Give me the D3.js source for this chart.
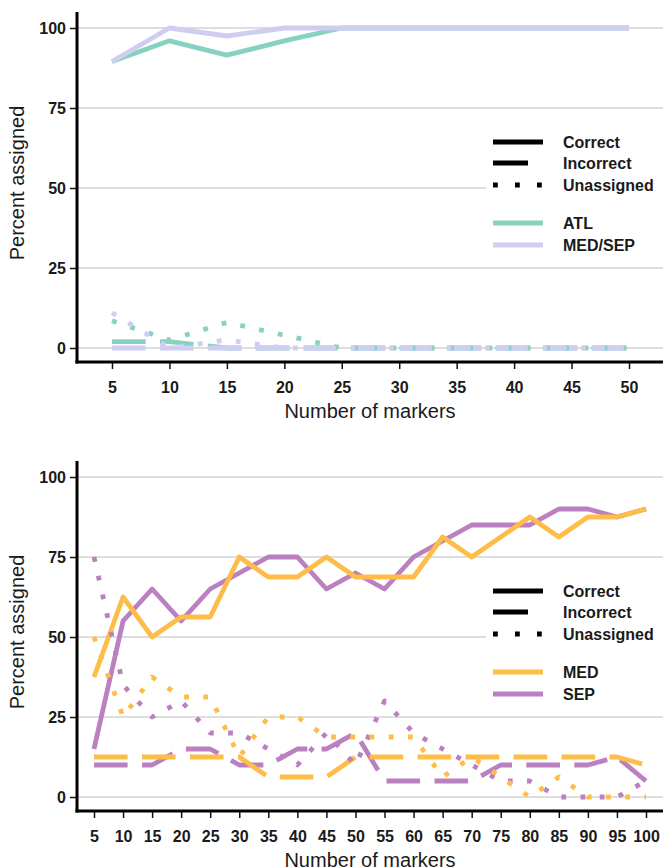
<!DOCTYPE html>
<html>
<head>
<meta charset="utf-8">
<script src="https://cdn.jsdelivr.net/npm/d3@7"></script>
<style>
  body { margin: 0; background: #fff; }
  svg { display: block; }
</style>
</head>
<body>
<svg id="chart" width="663" height="868"></svg>
<script>
// Top panel: ATL vs MED/SEP
const topMarkers = [5, 10, 15, 20, 25, 30, 35, 40, 45, 50];
const atlCorrect = [89.5, 96, 91.5, 96, 100, 100, 100, 100, 100, 100];
const atlIncorrect = [2, 2, 0, 0, 0, 0, 0, 0, 0, 0];
const atlUnassigned = [8.5, 2.5, 8, 4, 0, 0, 0, 0, 0, 0];
const medsepCorrect = [89.5, 100, 97.5, 100, 100, 100, 100, 100, 100, 100];
const medsepIncorrect = [0, 0, 0, 0, 0, 0, 0, 0, 0, 0];
const medsepUnassigned = [11, 0, 2.5, 0, 0, 0, 0, 0, 0, 0];

// Bottom panel: MED vs SEP
const bottomMarkers = [5, 10, 15, 20, 25, 30, 35, 40, 45, 50, 55, 60, 65, 70, 75, 80, 85, 90, 95, 100];
const medCorrect = [37.5, 62.5, 50, 56.25, 56.25, 75, 68.75, 68.75, 75, 68.75, 68.75, 68.75, 81.25, 75, 81.25, 87.5, 81.25, 87.5, 87.5, 90];
const medIncorrect = [12.5, 12.5, 12.5, 12.5, 12.5, 12.5, 6.25, 6.25, 6.25, 12.5, 12.5, 12.5, 12.5, 12.5, 12.5, 12.5, 12.5, 12.5, 12.5, 10];
const medUnassigned = [50, 25, 37.5, 31.25, 31.25, 12.5, 25, 25, 18.75, 18.75, 18.75, 18.75, 6.25, 12.5, 6.25, 0, 6.25, 0, 0, 0];
const sepCorrect = [15, 55, 65, 55, 65, 70, 75, 75, 65, 70, 65, 75, 80, 85, 85, 85, 90, 90, 87.5, 90];
const sepIncorrect = [10, 10, 10, 15, 15, 10, 10, 15, 15, 20, 5, 5, 5, 5, 10, 10, 10, 10, 12.5, 5];
const sepUnassigned = [75, 35, 25, 30, 20, 20, 15, 10, 20, 10, 30, 20, 15, 10, 5, 5, 0, 0, 0, 5];

const yTicks = [0, 25, 50, 75, 100];
const topXTicks = [5, 10, 15, 20, 25, 30, 35, 40, 45, 50];
const bottomXTicks = [5, 10, 15, 20, 25, 30, 35, 40, 45, 50, 55, 60, 65, 70, 75, 80, 85, 90, 95, 100];
const statusLabels = ['Correct', 'Incorrect', 'Unassigned'];

const FONT = '"Liberation Sans", Arial, Helvetica, sans-serif';
const LW = 4.8;
const dashes = { Correct: null, Incorrect: '33.6,14.4', Unassigned: '4.8,14.4' };
// legend keys only show one long dash
const legendDashes = { Correct: null, Incorrect: '35,20', Unassigned: '4.8,17.2' };

const svg = d3.select('#chart');

function drawPanel(offsetY, cfg) {
    const g = svg.append('g').attr('transform', `translate(0,${offsetY})`);
    const left = 77, right = 663, axisY = 362, top = 12;

    const x = d3.scaleLinear().domain(cfg.xDomain).range(cfg.xRange);
    const y = d3.scaleLinear().domain([0, 100]).range([348, 28]);

    // gridlines
    g.append('g').selectAll('line')
        .data(yTicks)
        .join('line')
        .attr('x1', left).attr('x2', right)
        .attr('y1', d => y(d)).attr('y2', d => y(d))
        .attr('stroke', '#d3d3d3')
        .attr('stroke-width', 1.5);

    // series lines: correct first, then incorrect, then unassigned
    const line = d3.line()
        .x((d, i) => x(cfg.markers[i]))
        .y(d => y(d));

    statusLabels.forEach(status => {
        cfg.series.forEach(s => {
            g.append('path')
                .datum(s[status])
                .attr('d', line)
                .attr('fill', 'none')
                .attr('stroke', s.color)
                .attr('stroke-width', LW)
                .attr('stroke-linejoin', 'round')
                .attr('stroke-dasharray', dashes[status]);
        });
    });

    // axes
    const yAxis = g.append('g')
        .attr('transform', `translate(${left},0)`)
        .call(d3.axisLeft(y).tickValues(yTicks).tickSize(7).tickPadding(4));
    const xAxis = g.append('g')
        .attr('transform', `translate(0,${axisY})`)
        .call(d3.axisBottom(x).tickValues(cfg.xTicks).tickSize(7).tickPadding(13));

    [yAxis, xAxis].forEach(ax => {
        ax.attr('font-family', FONT).attr('font-size', 16);
        ax.select('.domain').remove();
        ax.selectAll('.tick line').attr('stroke', '#111').attr('stroke-width', 1.5);
        ax.selectAll('.tick text').attr('fill', '#1a1a1a').attr('font-weight', 'bold');
    });

    g.append('line')
        .attr('x1', left).attr('x2', left)
        .attr('y1', top).attr('y2', axisY + 1.5)
        .attr('stroke', '#000').attr('stroke-width', 3);
    g.append('line')
        .attr('x1', left - 1.5).attr('x2', right)
        .attr('y1', axisY).attr('y2', axisY)
        .attr('stroke', '#000').attr('stroke-width', 3);

    // axis titles
    g.append('text')
        .attr('x', 370).attr('y', 418)
        .attr('text-anchor', 'middle')
        .attr('font-family', FONT).attr('font-size', 20)
        .attr('fill', '#1a1a1a')
        .text('Number of markers');
    g.append('text')
        .attr('transform', 'translate(24,183) rotate(-90)')
        .attr('text-anchor', 'middle')
        .attr('font-family', FONT).attr('font-size', 20)
        .attr('fill', '#1a1a1a')
        .text('Percent assigned');

    // legend
    const lg = g.append('g');
    lg.append('rect')
        .attr('x', 486).attr('y', 128)
        .attr('width', 177).attr('height', 130)
        .attr('fill', '#fff');

    const legendRows = [
        { label: 'Correct', y: 142, color: '#000', dash: legendDashes.Correct },
        { label: 'Incorrect', y: 163, color: '#000', dash: legendDashes.Incorrect },
        { label: 'Unassigned', y: 185, color: '#000', dash: legendDashes.Unassigned },
        { label: cfg.series[cfg.legendOrder[0]].name, y: 223, color: cfg.series[cfg.legendOrder[0]].color, dash: null },
        { label: cfg.series[cfg.legendOrder[1]].name, y: 245, color: cfg.series[cfg.legendOrder[1]].color, dash: null }
    ];

    legendRows.forEach(r => {
        lg.append('line')
            .attr('x1', 493).attr('x2', 543)
            .attr('y1', r.y).attr('y2', r.y)
            .attr('stroke', r.color)
            .attr('stroke-width', LW)
            .attr('stroke-dasharray', r.dash);
        lg.append('text')
            .attr('x', 563).attr('y', r.y + 6)
            .attr('font-family', FONT).attr('font-size', 16)
            .attr('font-weight', 'bold')
            .attr('fill', '#1a1a1a')
            .text(r.label);
    });
}

drawPanel(0, {
    markers: topMarkers,
    xDomain: [5, 50],
    xRange: [112, 629],
    xTicks: topXTicks,
    series: [
        { name: 'ATL', color: '#88d1c1', Correct: atlCorrect, Incorrect: atlIncorrect, Unassigned: atlUnassigned },
        { name: 'MED/SEP', color: '#cfcdf2', Correct: medsepCorrect, Incorrect: medsepIncorrect, Unassigned: medsepUnassigned }
    ],
    legendOrder: [0, 1]
});

drawPanel(449, {
    markers: bottomMarkers,
    xDomain: [5, 100],
    xRange: [94, 646],
    xTicks: bottomXTicks,
    series: [
        { name: 'SEP', color: '#bb80bf', Correct: sepCorrect, Incorrect: sepIncorrect, Unassigned: sepUnassigned },
        { name: 'MED', color: '#fdbd48', Correct: medCorrect, Incorrect: medIncorrect, Unassigned: medUnassigned }
    ],
    legendOrder: [1, 0]
});
</script>
</body>
</html>
